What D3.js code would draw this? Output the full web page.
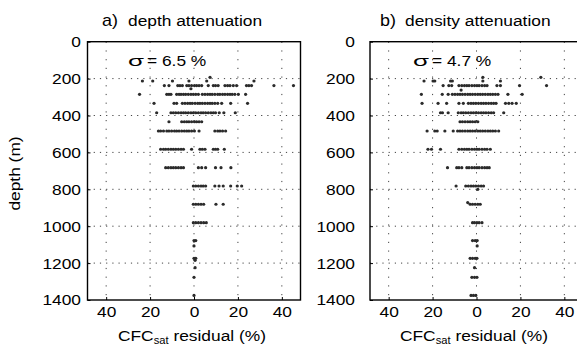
<!DOCTYPE html>
<html>
<head>
<meta charset="utf-8">
<script src="https://cdn.jsdelivr.net/npm/d3@7"></script>
<style>
  body { margin: 0; background: #fff; }
  text { font-family: "Liberation Sans", Arial, sans-serif; fill: #000; }
</style>
</head>
<body>
<script>
const depthTicks = [0, 200, 400, 600, 800, 1000, 1200, 1400];
const residualTicks = [-40, -20, 0, 20, 40];

// a) depth attenuation: depth of each sample row (m) and the residuals (%) found in it
const depthRowsA = [193, 213, 238, 255, 285, 334, 385, 434, 484, 583, 683, 782, 881, 981, 1078, 1107, 1174, 1185, 1225, 1277, 1375];
const residRowsA = [
  [7.3],
  [-23.5, -18.8, -9.8, -2.3, 5.8, 27.3],
  [-13.5, -11.4, -7.4, -6.4, -5.3, -3.3, -2.3, -1.1, 0.2, 1.2, 2.3, 3.5, 6.5, 8.8, 9.8, 11.0, 14.1, 15.3, 16.4, 17.9, 19.4, 23.9, 25.0, 26.2, 36.4, 45.3],
  [-1.4],
  [-24.8, -12.4, -11.4, -10.5, -7.9, -6.8, -5.9, -4.8, -3.8, -2.6, -1.4, -0.3, 0.8, 2.0, 3.8, 5.0, 6.2, 7.3, 8.3, 9.5, 10.8, 11.8, 13.0, 14.1, 15.3, 16.4, 17.4, 18.6, 20.2, 23.5],
  [-18.2, -9.1, -7.9, -5.3, -4.1, -2.9, -1.8, -0.8, 0.5, 1.7, 2.7, 3.8, 5.0, 6.2, 7.3, 8.3, 9.5, 10.8, 12.6, 16.7, 24.4],
  [-17.0, -10.5, -9.4, -8.3, -7.1, -5.9, -4.8, -3.8, -2.6, -1.4, -0.3, 0.8, 2.0, 3.2, 4.2, 5.3, 6.5, 7.7, 8.8, 9.8, 11.5, 13.6, 18.8],
  [-11.4, -5.6, -4.4, -3.3, -2.3, -1.1, 0.2, 1.2, 2.3, 3.5],
  [-16.2, -15.2, -13.9, -12.4, -11.4, -10.2, -8.9, -7.9, -6.8, -5.6, -4.4, -3.3, -2.3, -1.1, 0.2, 2.3, 9.5, 10.8, 11.8, 13.0, 14.4],
  [-15.2, -13.9, -12.9, -11.7, -10.5, -9.4, -8.3, -7.1, -5.9, -4.8, -1.1, 2.7, 3.8, 5.0, 8.8, 9.8, 10.8, 13.8],
  [-12.9, -11.7, -10.5, -9.4, -8.3, -7.1, -5.9, -4.8, 2.0, 3.5, 5.3, 9.8, 12.3, 16.8],
  [-0.3, 0.8, 2.0, 3.2, 4.2, 5.3, 9.5, 11.4, 13.3, 16.7, 19.7, 21.7],
  [-0.3, 0.8, 2.0, 3.2, 4.4, 10.0, 13.3],
  [-0.3, 0.8, 2.0, 3.2, 4.4, 5.6],
  [0, 0.8],
  [0],
  [0, 0.8],
  [0.5],
  [0.5],
  [0],
  [0]
];

// b) density attenuation
const depthRowsB = [193, 213, 238, 262, 285, 334, 385, 434, 484, 583, 683, 782, 800, 872, 881, 981, 1078, 1107, 1174, 1225, 1277, 1375];
const residRowsB = [
  [2.9, 29.3],
  [-23.9, -19.8, -19.0, -11.8, -11.0, 2.9, 10.9],
  [-15.2, -12.6, -11.3, -8.0, -6.7, -5.5, -4.4, -3.4, -2.1, -0.9, 0.2, 1.2, 2.5, 3.7, 4.8, 9.3, 10.9, 19.6, 31.9],
  [-7.0],
  [-25.1, -15.6, -12.9, -11.0, -9.8, -8.6, -7.5, -6.4, -5.2, -4.0, -2.9, -1.8, -0.6, 0.6, 1.7, 2.8, 4.0, 5.2, 6.3, 7.4, 8.6, 9.8, 14.3, 20.8],
  [-24.8, -17.5, -13.6, -8.0, -6.0, -3.7, -2.5, -1.4, -0.3, 0.9, 2.1, 3.2, 4.3, 5.5, 6.7, 7.8, 8.9, 13.2, 14.7, 16.2, 18.1],
  [-16.4, -15.5, -12.9, -8.3, -7.0, -6.0, -4.9, -3.7, -2.5, -1.4, -0.3, 0.9, 2.1, 3.2, 4.3, 5.5, 6.7, 7.8, 12.4],
  [-7.5, -6.4, -5.2, -4.0, -2.9, -1.8, -0.6, 0.6],
  [-22.5, -19.0, -17.9, -14.4, -10.6, -8.6, -7.5, -6.4, -5.2, -4.0, -2.9, -1.8, -0.6, 0.6, 1.7, 2.8, 4.0, 5.2, 6.3, 7.4, 8.6, 10.1],
  [-22.1, -20.5, -16.4, -8.0, -6.7, -5.5, -4.4, -3.4, -2.1, -0.9, 0.2, 1.2, 2.5, 3.7, 4.8, 6.3],
  [-13.2, -9.0, -8.0, -6.7, -4.4, -3.4, -2.1, -0.9, 0.2, 1.2, 2.5, 3.7, 4.8, 5.8],
  [-9.3, -4.9, -3.7, -2.5, -1.4, -0.3, 0.9, 2.1, 3.2],
  [0.6],
  [-4.0],
  [-2.9, -1.8, -0.6, 0.6, 1.7],
  [-1.8, -0.9, 0.2, 1.2, 2.5],
  [-1.8, -0.6, 0.3],
  [0.3],
  [-2.9, -1.8, -0.6, 0.2],
  [-0.9],
  [-2.1, -0.9, 0.2],
  [-2.5, -1.4, -0.3]
];

const W = 577, H = 345;
const SX = 1.12; // the original lettering is a bit stretched sideways
const plotTop = 41.7, plotBottom = 300;

const svg = d3.select("body").append("svg").attr("width", W).attr("height", H);

const y = d3.scaleLinear().domain([0, 1400]).range([plotTop, plotBottom]);

function drawPanel(p) {
  const x = d3.scaleLinear().domain([-48.5, 48.5]).range([p.left, p.left + 213]);
  const g = svg.append("g");

  // dotted grid
  g.selectAll(".hgrid").data(depthTicks.slice(1, -1)).enter().append("line")
    .attr("x1", x.range()[0]).attr("x2", x.range()[1])
    .attr("y1", d => y(d)).attr("y2", d => y(d))
    .attr("stroke", "#444").attr("stroke-width", 1).attr("stroke-dasharray", "1.2,5");
  g.selectAll(".vgrid").data(residualTicks).enter().append("line")
    .attr("x1", d => x(d)).attr("x2", d => x(d))
    .attr("y1", plotTop).attr("y2", plotBottom)
    .attr("stroke", "#444").attr("stroke-width", 1).attr("stroke-dasharray", "1.2,7.5");

  // points
  const pts = [];
  p.depths.forEach((dep, i) => p.resids[i].forEach(r => pts.push({depth: dep, r: r})));
  g.selectAll("circle").data(pts).enter().append("circle")
    .attr("cx", d => x(d.r)).attr("cy", d => y(d.depth))
    .attr("r", 1.6).attr("fill", "#2b2b2b");

  // axes
  const yAxis = d3.axisLeft(y).tickValues(depthTicks).tickSizeInner(-3).tickSizeOuter(0)
    .tickPadding(p.yPad).tickFormat(d3.format("d"));
  const ya = g.append("g").attr("transform", `translate(${p.left},0)`).call(yAxis);
  const xAxis = d3.axisBottom(x).tickValues(residualTicks).tickSizeInner(-3).tickSizeOuter(0)
    .tickPadding(6.5).tickFormat(d => Math.abs(d));
  const xa = g.append("g").attr("transform", `translate(0,${plotBottom})`).call(xAxis);
  [ya, xa].forEach(a => {
    a.select(".domain").remove();
    a.selectAll("text").attr("font-size", 15.5).attr("font-family", "Liberation Sans, Arial, sans-serif")
      .attr("fill", "#000").attr("transform", `scale(${SX},1)`);
    a.selectAll("line").attr("stroke", "#000");
  });

  // box
  g.append("rect").attr("x", x.range()[0]).attr("y", plotTop)
    .attr("width", x.range()[1] - x.range()[0]).attr("height", plotBottom - plotTop)
    .attr("fill", "none").attr("stroke", "#000").attr("stroke-width", 1.4);

  // title
  g.append("text").attr("transform", `translate(${p.titleX},26) scale(${SX},1)`)
    .attr("font-family", "Liberation Serif, Times New Roman, serif").attr("font-size", 16).text(p.tag);
  g.append("text").attr("transform", `translate(${p.titleX2},26) scale(${SX},1)`)
    .attr("font-size", 15.5).text(p.title);

  // sigma annotation
  g.append("text").attr("x", p.sigX).attr("y", 66)
    .attr("font-family", "DejaVu Sans, sans-serif").attr("font-size", 14)
    .attr("textLength", 16).attr("lengthAdjust", "spacingAndGlyphs").text("σ");
  g.append("text").attr("transform", `translate(${p.sigX + 19},66) scale(${SX},1)`)
    .attr("font-size", 15.5).text("= " + p.sigma + " %");

  // x label (subscript sits at the bottom edge, as in the original)
  const xl = g.append("text").attr("transform", `translate(${p.xlabX},341) scale(${SX},1)`).attr("font-size", 15.5);
  xl.append("tspan").text("CFC");
  xl.append("tspan").attr("dy", 3).attr("font-size", 10).text("sat");
  xl.append("tspan").attr("dy", -3).text(" residual (%)");
}

drawPanel({left: 87.5, yPad: 5.8, depths: depthRowsA, resids: residRowsA,
  tag: "a)", title: "depth attenuation", titleX: 102, titleX2: 128, sigX: 128, sigma: "6.5", xlabX: 118});
drawPanel({left: 370, yPad: 13.4, depths: depthRowsB, resids: residRowsB,
  tag: "b)", title: "density attenuation", titleX: 380, titleX2: 405, sigX: 413, sigma: "4.7", xlabX: 400});

// y label
svg.append("text").attr("transform", "translate(20,173.5) rotate(-90) scale(" + SX + ",1)")
  .attr("text-anchor", "middle").attr("font-size", 15.5).text("depth (m)");
</script>
</body>
</html>
